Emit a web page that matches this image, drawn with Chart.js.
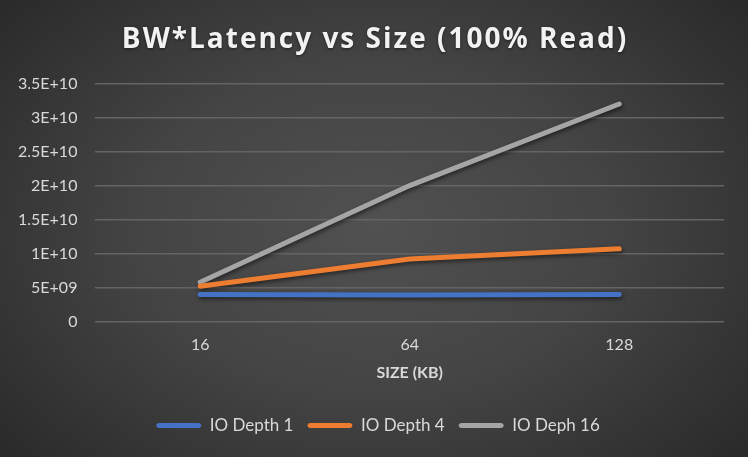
<!DOCTYPE html>
<html>
<head>
<meta charset="utf-8">
<script src="https://cdn.jsdelivr.net/npm/chart.js@4/dist/chart.umd.min.js"></script>
<style>
html,body{margin:0;padding:0;}
#wrap{width:748px;height:457px;position:relative;
background:radial-gradient(ellipse 70% 80% at 50% 50%, #515151 0%, #444444 45%, #272727 100%);}
canvas{display:block;}
</style>
</head>
<body>
<div id="wrap"><canvas id="c" width="748" height="457"></canvas></div>
<script>
const categories = ["16", "64", "128"];
const ioDepth1 = [4.0e9, 3.9e9, 4.0e9];
const ioDepth4 = [5.2e9, 9.2e9, 10.7e9];
const ioDepth16 = [5.8e9, 2.0e10, 3.2e10];
const yTickLabels = {0:"0",5e9:"5E+09",1e10:"1E+10",1.5e10:"1.5E+10",2e10:"2E+10",2.5e10:"2.5E+10",3e10:"3E+10",3.5e10:"3.5E+10"};
const chartTitle = 'BW*Latency vs Size (100% Read)';

const shadowPlugin = {
  id:'shadow',
  beforeDatasetsDraw(chart){ const c=chart.ctx; c.save(); c.shadowColor='rgba(0,0,0,0.55)'; c.shadowBlur=4; c.shadowOffsetX=1; c.shadowOffsetY=2; },
  afterDatasetsDraw(chart){ chart.ctx.restore(); }
};
// draws the visible title with letter spacing, positioned in the box reserved by the built-in title
const spacedTitle = {
  id:'spacedTitle',
  afterDraw(chart){
    const t = chart.titleBlock; const c = chart.ctx;
    c.save();
    c.font = 'bold 28px "Open Sans"';
    c.letterSpacing = '2px';
    c.fillStyle = '#f2f2f2';
    c.textAlign = 'center'; c.textBaseline = 'middle';
    c.shadowColor='rgba(0,0,0,0.5)'; c.shadowBlur=3; c.shadowOffsetY=1;
    const cy = t.top + t.options.padding.top + t.options.font.size*0.6;
    c.fillText(chartTitle, chart.width/2 + 1, cy);
    c.restore();
  }
};
const legendShift = {
  id:'legendShift',
  afterLayout(chart){ if (chart.legend){ chart.legend.left += 16; chart.legend.right += 16; } }
};

function ds(label, data, color){
  return {label, data, borderColor:color, backgroundColor:color, borderWidth:5,
    pointRadius:0, pointHoverRadius:0, borderCapStyle:'round', borderJoinStyle:'round', tension:0};
}

new Chart(document.getElementById('c'), {
  type:'line',
  data:{labels:categories, datasets:[
    ds('IO Depth 1', ioDepth1, '#4472c4'),
    ds('IO Depth 4', ioDepth4, '#ed7d31'),
    ds('IO Deph 16', ioDepth16, '#a5a5a5')
  ]},
  plugins:[shadowPlugin, spacedTitle, legendShift],
  options:{
    responsive:false, animation:false,
    layout:{padding:{left:0,right:24,top:4,bottom:13}},
    plugins:{
      title:{display:true, text:chartTitle, color:'rgba(0,0,0,0)',
        font:{family:'Open Sans', size:28, weight:'bold'}, padding:{top:19,bottom:27}},
      legend:{position:'bottom', labels:{color:'#d9d9d9', font:{family:'Lato', size:17},
        boxWidth:45, boxHeight:5, padding:14,
        generateLabels(chart){ return chart.data.datasets.map((d,i)=>({text:d.label, fillStyle:d.borderColor, strokeStyle:d.borderColor, lineWidth:0, fontColor:'#d9d9d9', datasetIndex:i, borderRadius:3})); }
      }},
      tooltip:{enabled:false}
    },
    scales:{
      x:{offset:true, grid:{display:false}, border:{display:false},
        ticks:{color:'#d9d9d9', font:{family:'Lato', size:16}, padding:6},
        title:{display:true, text:'SIZE (KB)', color:'#d9d9d9', font:{family:'Lato', size:16, weight:'bold'}, padding:{top:2,bottom:21}}},
      y:{min:0, max:3.5e10, grid:{color:'#646464', lineWidth:1.5, drawTicks:false}, border:{display:false},
        ticks:{stepSize:5e9, color:'#d9d9d9', font:{family:'Lato', size:16}, padding:18,
          callback:(v)=>yTickLabels[v] !== undefined ? yTickLabels[v] : ''}}
    }
  }
});
</script>
</body>
</html>
